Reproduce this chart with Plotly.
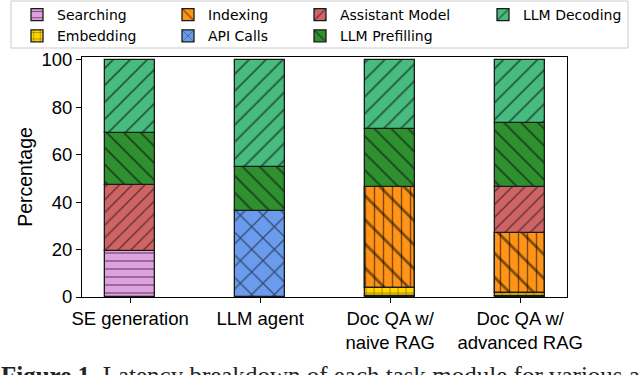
import plotly.graph_objects as go
import numpy as np

tasks = ["SE generation", "LLM agent", "Doc QA w/<br>naive RAG", "Doc QA w/<br>advanced RAG"]

# percentage of latency per module, bottom to top
searching = [19.5, 0, 0.3, 0.5]
embedding = [0, 0, 3.5, 1.0]
indexing = [0, 0, 42.5, 25.5]
api_calls = [0, 36.2, 0, 0]
assistant = [27.8, 0, 0, 19.5]
prefilling = [21.8, 18.5, 24.7, 27.0]
decoding = [30.9, 45.3, 29.0, 26.5]

modules = [
    ("Searching", searching, "#e0a1e0", "-", 8, "legend"),
    ("Embedding", embedding, "#ffd500", "+", 8, "legend"),
    ("Indexing", indexing, "#ff9416", "\\", 17, "legend2"),
    ("API Calls", api_calls, "#6a9bec", "x", 16, "legend2"),
    ("Assistant Model", assistant, "#cf6464", "/", 9, "legend3"),
    ("LLM Prefilling", prefilling, "#2f9030", "\\", 12, "legend3"),
    ("LLM Decoding", decoding, "#48bb7f", "/", 12, "legend4"),
]

x = np.arange(len(tasks))
base = np.zeros(len(tasks))
fig = go.Figure()
for name, vals, color, shape, size, leg in modules:
    vals = np.array(vals, dtype=float)
    fig.add_trace(go.Bar(
        x=x, y=vals, base=base, name=name, width=0.385, legend=leg,
        marker=dict(color=color, line=dict(color="#1a1a1a", width=1.3),
                    pattern=dict(shape=shape, fgcolor="black", size=size, solidity=0.16)),
    ))
    if name == "Indexing":
        # second hatch layer (vertical lines) on top of the diagonal one
        fig.add_trace(go.Bar(
            x=x, y=vals, base=base, showlegend=False, width=0.385,
            marker=dict(color="rgba(0,0,0,0)", line=dict(color="#1a1a1a", width=1.3),
                        pattern=dict(shape="|", fgcolor="black", bgcolor="rgba(0,0,0,0)",
                                     size=9, solidity=0.16, fillmode="overlay")),
        ))
    base = base + vals

# plot area: 82..567 px wide, 57..297 px high
def px_x(p):
    return (p - 82) / 485

def px_y(p):
    return (297 - p) / 240

leg_style = dict(orientation="v", yanchor="top", xanchor="left", y=px_y(-1),
                 bgcolor="rgba(0,0,0,0)", borderwidth=0,
                 font=dict(family="DejaVu Sans", size=14),
                 traceorder="normal", tracegroupgap=0)

fig.update_layout(
    width=640, height=375,
    barmode="overlay",
    plot_bgcolor="white", paper_bgcolor="white",
    font=dict(family="Liberation Sans, Arial, sans-serif", size=18.5, color="black"),
    margin=dict(l=82, r=73, t=57, b=78, autoexpand=False),
    showlegend=True,
    legend=dict(x=px_x(17), **leg_style),
    legend2=dict(x=px_x(168), **leg_style),
    legend3=dict(x=px_x(300), **leg_style),
    legend4=dict(x=px_x(483), **leg_style),
    bargap=0,
)
# legend frame
fig.add_shape(type="rect", xref="paper", yref="paper",
              x0=px_x(11), x1=px_x(628), y0=px_y(48), y1=px_y(1),
              line=dict(color="#cccccc", width=1), layer="above")
fig.update_xaxes(
    tickmode="array", tickvals=x, ticktext=tasks, range=[-0.37, 3.36],
    showline=True, linecolor="black", linewidth=1, mirror=True,
    ticks="outside", ticklen=5, tickcolor="black", showgrid=False, zeroline=False,
)
fig.update_yaxes(
    range=[0, 101.2], tickvals=[0, 20, 40, 60, 80, 100],
    title=dict(text="Percentage", standoff=3, font=dict(size=19.5)),
    showline=True, linecolor="black", linewidth=1, mirror=True,
    ticks="outside", ticklen=5, tickcolor="black", showgrid=False, zeroline=False,
)
fig.add_annotation(
    xref="paper", yref="paper", x=px_x(-1), y=px_y(360), xanchor="left", yanchor="top",
    text="<b>Figure 1.</b> Latency breakdown of each task module for various applications.",
    showarrow=False, font=dict(family="Liberation Serif, serif", size=25, color="#222"),
)

fig.write_html("out.html", config={"displayModeBar": False},
               post_script="document.body.style.margin='0px';")
